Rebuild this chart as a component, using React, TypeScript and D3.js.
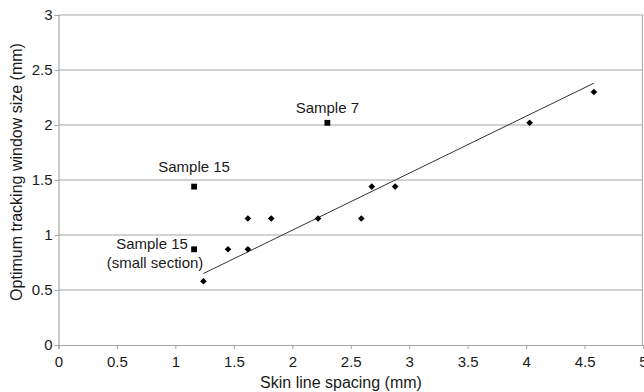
import React, { useEffect, useRef } from 'react';
import * as d3 from 'd3';

// measured spacing vs window size (diamonds)
const spacingX = [1.24, 1.45, 1.62, 1.62, 1.82, 2.22, 2.59, 2.68, 2.88, 4.03, 4.58];
const windowY = [0.58, 0.87, 0.87, 1.15, 1.15, 1.15, 1.15, 1.44, 1.44, 2.02, 2.30];

// outlier samples (squares)
const outlierX = [2.30, 1.16, 1.16];
const outlierY = [2.02, 1.44, 0.87];

// trend line end points
const trendX = [1.24, 4.58];
const trendY = [0.65, 2.38];

// annotation labels: text lines + anchor position in data units
const labelText = [['Sample 7'], ['Sample 15'], ['Sample 15', '(small section)']];
const labelX = [2.30, 1.16, 0.80];
const labelY = [2.11, 1.575, 0.875];

const xTicks = [0, 0.5, 1, 1.5, 2, 2.5, 3, 3.5, 4, 4.5, 5];
const yTicks = [0, 0.5, 1, 1.5, 2, 2.5, 3];

const WIDTH = 644;
const HEIGHT = 392;
const FONT = 'Liberation Sans, Arial, sans-serif';

const ScatterChart = () => {
    const chartRef = useRef<SVGSVGElement | null>(null);

    useEffect(() => {
        const svg = d3.select(chartRef.current);
        svg.selectAll('*').remove();

        const margin = { top: 15, right: 1, bottom: 47, left: 58.5 };
        const innerWidth = WIDTH - margin.left - margin.right;
        const innerHeight = HEIGHT - margin.top - margin.bottom;

        const x = d3.scaleLinear().domain([0, 5]).range([0, innerWidth]);
        const y = d3.scaleLinear().domain([0, 3]).range([innerHeight, 0]);

        svg.append('rect')
            .attr('width', WIDTH)
            .attr('height', HEIGHT)
            .attr('fill', '#fff');

        const g = svg.append('g')
            .attr('transform', `translate(${margin.left},${margin.top})`);

        // horizontal grid
        g.selectAll('.grid')
            .data(yTicks.filter(d => d > 0))
            .enter().append('line')
            .attr('x1', 0)
            .attr('x2', innerWidth)
            .attr('y1', d => y(d))
            .attr('y2', d => y(d))
            .attr('stroke', '#a6a6a6')
            .attr('stroke-width', 1.2);

        // right border
        g.append('line')
            .attr('x1', innerWidth - 0.5)
            .attr('x2', innerWidth - 0.5)
            .attr('y1', 0)
            .attr('y2', innerHeight)
            .attr('stroke', '#b0b0b0')
            .attr('stroke-width', 1.2);

        const xAxis = g.append('g')
            .attr('transform', `translate(0,${innerHeight})`)
            .call(d3.axisBottom(x).tickValues(xTicks).tickSize(4).tickPadding(7)
                .tickFormat(d => String(d)));

        const yAxis = g.append('g')
            .call(d3.axisLeft(y).tickValues(yTicks).tickSize(4).tickPadding(2)
                .tickFormat(d => String(d)));

        [xAxis, yAxis].forEach(ax => {
            ax.select('.domain').attr('stroke', '#a6a6a6').attr('stroke-width', 1.2);
            ax.selectAll('.tick line').attr('stroke', '#a6a6a6');
            ax.selectAll('.tick text')
                .attr('fill', '#1a1a1a')
                .style('font-family', FONT)
                .style('font-size', '15px');
        });

        // trend line
        const line = d3.line<number>()
            .x((d, i) => x(trendX[i]))
            .y(d => y(d));
        g.append('path')
            .datum(trendY)
            .attr('d', line)
            .attr('fill', 'none')
            .attr('stroke', '#333')
            .attr('stroke-width', 1);

        // diamonds (square turned 45deg)
        g.selectAll('.pt')
            .data(spacingX)
            .enter().append('path')
            .attr('d', d3.symbol().type(d3.symbolSquare).size(22))
            .attr('transform', (d, i) => `translate(${x(d)},${y(windowY[i])}) rotate(45)`)
            .attr('fill', '#000');

        // squares
        g.selectAll('.sq')
            .data(outlierX)
            .enter().append('path')
            .attr('d', d3.symbol().type(d3.symbolSquare).size(34))
            .attr('transform', (d, i) => `translate(${x(d)},${y(outlierY[i])})`)
            .attr('fill', '#000');

        // annotations
        labelText.forEach((lines, i) => {
            const t = g.append('text')
                .attr('x', x(labelX[i]))
                .attr('y', y(labelY[i]))
                .attr('text-anchor', 'middle')
                .attr('fill', '#1a1a1a')
                .style('font-family', FONT)
                .style('font-size', '15px');
            lines.forEach((s, j) => {
                t.append('tspan')
                    .attr('x', x(labelX[i]) + (j > 0 ? 3 : 0))
                    .attr('dy', j === 0 ? 0 : 19)
                    .text(s);
            });
        });

        // axis titles
        svg.append('text')
            .attr('x', 341)
            .attr('y', 388)
            .attr('text-anchor', 'middle')
            .attr('fill', '#1a1a1a')
            .style('font-family', FONT)
            .style('font-size', '16px')
            .text('Skin line spacing (mm)');

        svg.append('text')
            .attr('transform', 'translate(22,172) rotate(-90)')
            .attr('text-anchor', 'middle')
            .attr('fill', '#1a1a1a')
            .style('font-family', FONT)
            .style('font-size', '16px')
            .text('Optimum tracking window size (mm)');
    }, []);

    return (
        <svg
            ref={chartRef}
            width={WIDTH}
            height={HEIGHT}
            style={{ position: 'absolute', left: 0, top: 0, display: 'block' }}
        ></svg>
    );
};

export default function App() {
    return <ScatterChart />;
}
